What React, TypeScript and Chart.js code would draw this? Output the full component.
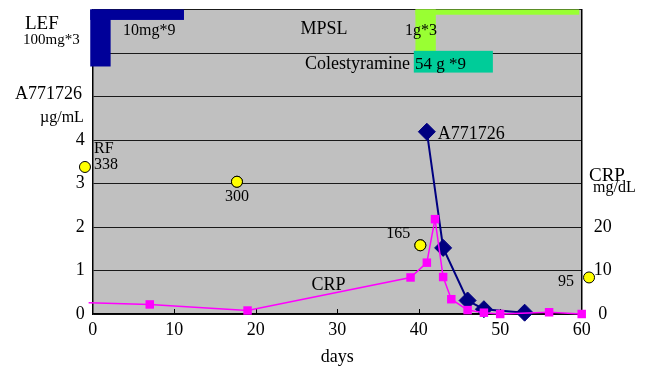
import React, { useEffect, useRef } from "react";
import { Chart, registerables } from "chart.js";

Chart.register(...registerables);

// ---- data ----
const a771726Days = [41, 43, 46, 48, 53];
const a771726Values = [4.19, 1.52, 0.31, 0.11, 0.03]; // µg/mL

const crpDays = [-0.5, 7, 19, 39, 41, 42, 43, 44, 46, 48, 50, 56, 60];
const crpValues = [2.6, 2.2, 0.8, 8.4, 11.8, 21.8, 8.5, 3.4, 0.9, 0.3, 0, 0.4, 0]; // mg/dL

const rfDays = [-0.95, 17.7, 40.2, 60.9];
const rfValues = [3.38, 3.04, 1.58, 0.84]; // RF / 100, plotted on left axis
const rfLabels = ["338", "300", "165", "95"];

const leftTickLabels = [0, 1, 2, 3, 4];
const crpTickLabels = [0, 10, 20];

const lefLoadingDays = [-0.3, 2.2];
const lefMaintenanceDays = [-0.3, 11.2];
const mpslPulseDays = [39.6, 42.1];
const mpslDays = [39.6, 59.7];
const colestyramineDays = [39.4, 49.1];

const FONT = "'Liberation Serif', 'Times New Roman', serif";

const bgPlugin = {
  id: "bg",
  beforeDraw(chart: any) {
    const { ctx, chartArea: a } = chart;
    ctx.save();
    ctx.fillStyle = "#C0C0C0";
    ctx.fillRect(a.left, a.top, a.right - a.left, a.bottom - a.top);
    ctx.restore();
  },
};

const bandPlugin = {
  id: "bands",
  beforeDatasetsDraw(chart: any) {
    const { ctx } = chart;
    const x = chart.scales.x;
    const y = chart.scales.y;
    const rect = (days: number[], v0: number, v1: number, color: string) => {
      const x0 = x.getPixelForValue(days[0]);
      const x1 = x.getPixelForValue(days[1]);
      const yt = y.getPixelForValue(v1);
      const yb = y.getPixelForValue(v0);
      ctx.fillStyle = color;
      ctx.fillRect(x0, yt, x1 - x0, yb - yt);
    };
    ctx.save();
    rect(lefLoadingDays, 5.69, 7, "#000099");
    rect(lefMaintenanceDays, 6.76, 7, "#000099");
    rect(mpslPulseDays, 6.03, 7, "#99FF33");
    rect(mpslDays, 6.88, 7, "#99FF33");
    rect(colestyramineDays, 5.55, 6.05, "#00CC99");
    // inward x ticks
    ctx.strokeStyle = "#000";
    ctx.lineWidth = 1;
    const b = chart.chartArea.bottom;
    for (let d = 10; d < 60; d += 10) {
      const px = Math.round(x.getPixelForValue(d)) + 0.5;
      ctx.beginPath();
      ctx.moveTo(px, b);
      ctx.lineTo(px, b - 5);
      ctx.stroke();
    }
    ctx.restore();
  },
  afterDatasetsDraw(chart: any) {
    // RF points lie partly outside the plot area; draw them without the area check
    const meta = chart.getDatasetMeta(2);
    const { ctx } = chart;
    ctx.save();
    meta.data.forEach((el: any) => el.draw(ctx));
    ctx.restore();
  },
};

const textPlugin = {
  id: "texts",
  afterDraw(chart: any) {
    const { ctx } = chart;
    const x = chart.scales.x;
    const y = chart.scales.y;
    const t = (s: string, px: number, py: number, size: number, align: CanvasTextAlign = "left") => {
      ctx.font = `${size}px ${FONT}`;
      ctx.textAlign = align;
      ctx.textBaseline = "alphabetic";
      ctx.fillStyle = "#000";
      ctx.fillText(s, px, py);
    };
    ctx.save();
    t("LEF", 25, 28.5, 19);
    t("100mg*3", 23, 44, 15);
    t("10mg*9", 123, 34.5, 16);
    t("MPSL", 300.5, 33.5, 18);
    t("1g*3", 405, 34.5, 16);
    t("Colestyramine", 305, 68.5, 18);
    t("54 g *9", 415, 68.5, 17);
    t("A771726", 15, 98.5, 18);
    t("\u00B5g/mL", 40, 122, 16);
    t("CRP", 589, 181, 19);
    t("mg/dL", 593, 192, 16);

    // RF labels, anchored to their points
    const rp = rfDays.map((d, i) => [x.getPixelForValue(d), y.getPixelForValue(rfValues[i])]);
    t("RF", rp[0][0] + 9, rp[0][1] - 13.5, 16);
    t(rfLabels[0], rp[0][0] + 9, rp[0][1] + 2.5, 16);
    t(rfLabels[1], rp[1][0], rp[1][1] + 19.5, 16, "center");
    t(rfLabels[2], rp[2][0] - 10, rp[2][1] - 7.5, 16, "right");
    t(rfLabels[3], rp[3][0] - 15, rp[3][1] + 8.5, 16, "right");

    // series labels
    const ap = [x.getPixelForValue(a771726Days[0]), y.getPixelForValue(a771726Values[0])];
    t("A771726", ap[0] + 11, ap[1] + 7, 18);
    t("CRP", 311.5, 290, 18);
    ctx.restore();
  },
};

const zeroVPad = (s: any, w: number) => {
  s.width = w;
  s.paddingTop = 0;
  s.paddingBottom = 0;
};

export default function App() {
  const ref = useRef<HTMLCanvasElement | null>(null);

  useEffect(() => {
    if (!ref.current) return;
    const chart = new Chart(ref.current, {
      type: "scatter",
      data: {
        datasets: [
          {
            label: "CRP",
            data: crpDays.map((d, i) => ({ x: d, y: crpValues[i] })),
            yAxisID: "yCrp",
            showLine: true,
            borderColor: "#FF00FF",
            backgroundColor: "#FF00FF",
            borderWidth: 1.5,
            pointStyle: "rect",
            pointRadius: crpDays.map((_, i) => (i === 0 ? 0 : 6)),
            pointBorderWidth: 0,
            clip: false,
          } as any,
          {
            label: "A771726",
            data: a771726Days.map((d, i) => ({ x: d, y: a771726Values[i] })),
            yAxisID: "y",
            showLine: true,
            borderColor: "#000080",
            backgroundColor: "#000080",
            borderWidth: 2,
            pointStyle: "rectRot",
            pointRadius: 8.5,
            pointBorderWidth: 1,
            clip: false,
          } as any,
          {
            label: "RF",
            data: rfDays.map((d, i) => ({ x: d, y: rfValues[i] })),
            yAxisID: "y",
            showLine: false,
            borderColor: "#000",
            backgroundColor: "#FFFF00",
            pointStyle: "circle",
            pointRadius: 5.5,
            pointBorderWidth: 1,
            clip: false,
          } as any,
        ],
      },
      options: {
        animation: false,
        responsive: false,
        events: [],
        layout: { padding: { left: 0, right: 0, top: 9.3, bottom: 0 } },
        plugins: {
          legend: { display: false },
          tooltip: { enabled: false },
        },
        scales: {
          x: {
            type: "linear",
            min: 0,
            max: 60,
            afterFit: (s: any) => {
              s.height = 54;
              s.paddingLeft = 0;
              s.paddingRight = 0;
            },
            ticks: {
              stepSize: 10,
              color: "#000",
              font: { family: FONT, size: 18 },
              padding: 5,
              maxRotation: 0,
            },
            grid: { display: false, drawTicks: false },
            border: { display: true, color: "#000", width: 1.5 },
            title: {
              display: true,
              text: "days",
              color: "#000",
              font: { family: FONT, size: 18 },
              padding: { top: 0, bottom: 0 },
            },
          },
          y: {
            type: "linear",
            position: "left",
            min: 0,
            max: 7,
            afterFit: (s: any) => zeroVPad(s, 92.7),
            ticks: {
              stepSize: 1,
              color: "#000",
              font: { family: FONT, size: 18 },
              padding: 8,
              callback: (v: any) => (leftTickLabels.includes(Number(v)) ? String(v) : ""),
            },
            grid: { color: "#1a1a1a", lineWidth: 1, drawTicks: false },
            border: { display: true, color: "#000", width: 1.5 },
          },
          yCrp: {
            type: "linear",
            position: "right",
            min: 0,
            max: 70,
            afterFit: (s: any) => zeroVPad(s, 66.3),
            ticks: {
              stepSize: 10,
              color: "#000",
              font: { family: FONT, size: 18 },
              padding: 12,
              crossAlign: "center",
              callback: (v: any) => (crpTickLabels.includes(Number(v)) ? String(v) : ""),
            },
            grid: { drawOnChartArea: false, drawTicks: false },
            border: { display: true, color: "#000", width: 1.5 },
          },
        },
      } as any,
      plugins: [bgPlugin, bandPlugin, textPlugin],
    });
    return () => chart.destroy();
  }, []);

  return (
    <div style={{ position: "fixed", left: 0, top: 0, width: 648, height: 368, background: "#fff" }}>
      <canvas ref={ref} width={648} height={368} style={{ width: 648, height: 368 }} />
    </div>
  );
}
